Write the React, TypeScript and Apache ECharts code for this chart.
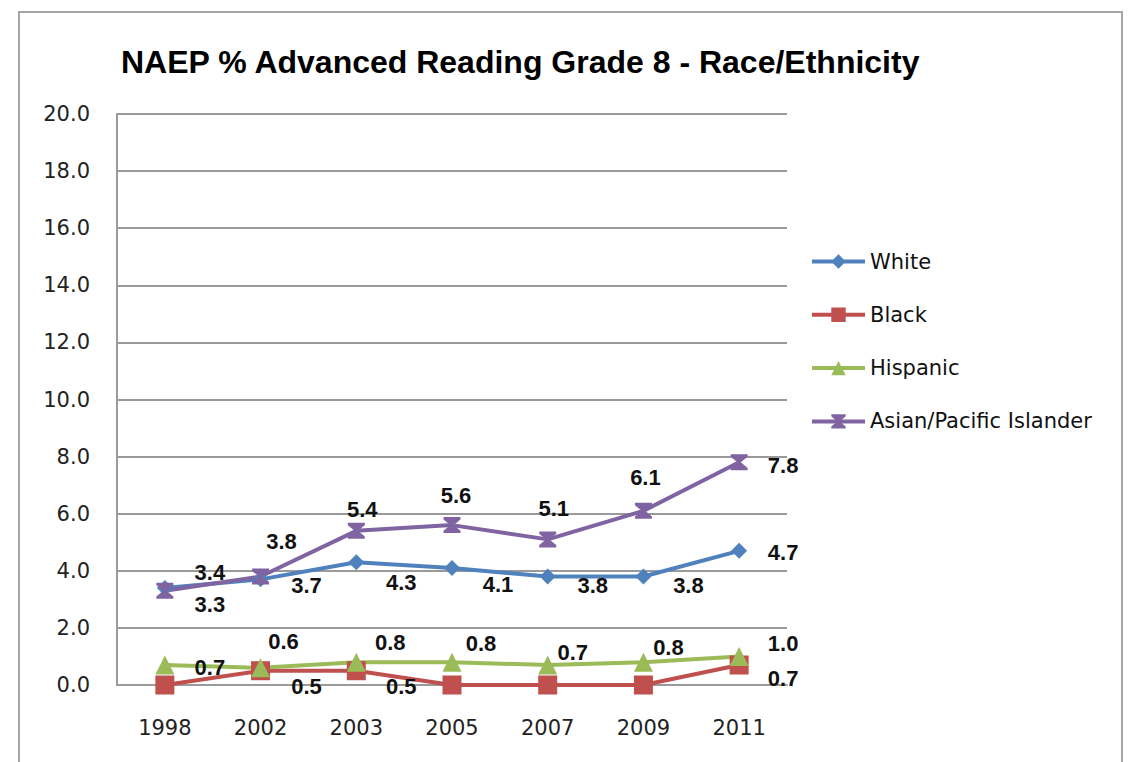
import React, { useEffect, useRef } from "react";
import * as echarts from "echarts";

const categories = ["1998", "2002", "2003", "2005", "2007", "2009", "2011"];
const seriesNames = ["White", "Black", "Hispanic", "Asian/Pacific Islander"];
const white = [3.4, 3.7, 4.3, 4.1, 3.8, 3.8, 4.7];
const black = [0.0, 0.5, 0.5, 0.0, 0.0, 0.0, 0.7];
const hispanic = [0.7, 0.6, 0.8, 0.8, 0.7, 0.8, 1.0];
const asian = [3.3, 3.8, 5.4, 5.6, 5.1, 6.1, 7.8];
const yMin = 0;
const yMax = 20;
const yStep = 2;

// label placement offsets (label centre relative to the point), per series / category
const whiteOffsets = [[45, -15], [46, 6], [45, 20], [46, 17], [45, 9], [45, 9], [44, 2]];
const blackOffsets = [[45, 14], [46, 16], [45, 16], [45, 16], [45, 16], [45, 16], [44, 13]];
const hispanicOffsets = [[45, 2], [23, -26], [34, -20], [29, -19], [25, -13], [25, -15], [44, -13]];
const asianOffsets = [[45, 14], [21, -35], [6, -21], [4, -30], [6, -31], [2, -33], [44, 3]];

const hourglass = "path://M0,0 L10,0 L10,1.5 L6,5 L10,8.5 L10,10 L0,10 L0,8.5 L4,5 L0,1.5 Z";

function buildData(values: number[], offsets: number[][]) {
  return values.map((v, i) => ({
    value: v,
    label: {
      show: v > 0,
      position: "inside",
      offset: offsets[i],
    },
  }));
}

export default function App() {
  const ref = useRef<HTMLDivElement>(null);
  useEffect(() => {
    document.body.style.margin = "0";
    const chart = echarts.init(ref.current!, null, { renderer: "svg" });
    const labelStyle = {
      color: "#111",
      fontFamily: "Liberation Sans",
      fontWeight: "bold",
      fontSize: 22,
      formatter: (p: any) => Number(p.value).toFixed(1),
    };
    const mk = (name: string, values: number[], offsets: number[][], color: string, symbol: string, size: number | number[]) => ({
      name,
      type: "line",
      data: buildData(values, offsets),
      symbol,
      symbolSize: size,
      lineStyle: { color, width: 4 },
      itemStyle: { color },
      label: { ...labelStyle },
      z: 2,
    });
    chart.setOption({
      animation: false,
      backgroundColor: "#fff",
      title: {
        text: "NAEP % Advanced Reading Grade 8 - Race/Ethnicity",
        left: 121,
        top: 46,
        padding: 0,
        textStyle: {
          fontFamily: "Liberation Sans",
          fontWeight: "bold",
          fontSize: 32,
          color: "#000",
        },
      },
      graphic: [
        {
          type: "rect",
          shape: { x: 19, y: 12, width: 1103, height: 800 },
          style: { fill: "none", stroke: "#a6a6a6", lineWidth: 2 },
          silent: true,
        },
      ],
      legend: {
        orient: "vertical",
        left: 810,
        top: 251,
        itemWidth: 53,
        itemHeight: 18,
        itemGap: 32.3,
        padding: 0,
        data: seriesNames,
        lineStyle: { width: 4 },
        textStyle: { fontFamily: "DejaVu Sans", fontSize: 21, color: "#111", padding: [0, 0, 0, 0] },
      },
      grid: { left: 117, right: 348, top: 114, bottom: 77 },
      xAxis: {
        type: "category",
        data: categories,
        boundaryGap: true,
        axisLine: { lineStyle: { color: "#9a9a9a", width: 2 } },
        axisTick: { show: false },
        axisLabel: { fontFamily: "DejaVu Sans", fontSize: 21, color: "#222", margin: 32 },
      },
      yAxis: {
        type: "value",
        min: yMin,
        max: yMax,
        interval: yStep,
        axisLine: { show: true, lineStyle: { color: "#9a9a9a", width: 2 } },
        axisTick: { show: false },
        splitLine: { lineStyle: { color: "#9a9a9a", width: 2 } },
        axisLabel: {
          fontFamily: "DejaVu Sans",
          fontSize: 21,
          color: "#222",
          margin: 27,
          formatter: (v: number) => v.toFixed(1),
        },
      },
      series: [
        mk(seriesNames[0], white, whiteOffsets, "#4F81BD", "diamond", 16),
        mk(seriesNames[1], black, blackOffsets, "#C0504D", "rect", 19),
        mk(seriesNames[2], hispanic, hispanicOffsets, "#9BBB59", "triangle", 19),
        mk(seriesNames[3], asian, asianOffsets, "#8064A2", hourglass, [17, 16]),
      ],
    });
    return () => chart.dispose();
  }, []);
  return <div ref={ref} style={{ width: 1135, height: 762 }} />;
}
